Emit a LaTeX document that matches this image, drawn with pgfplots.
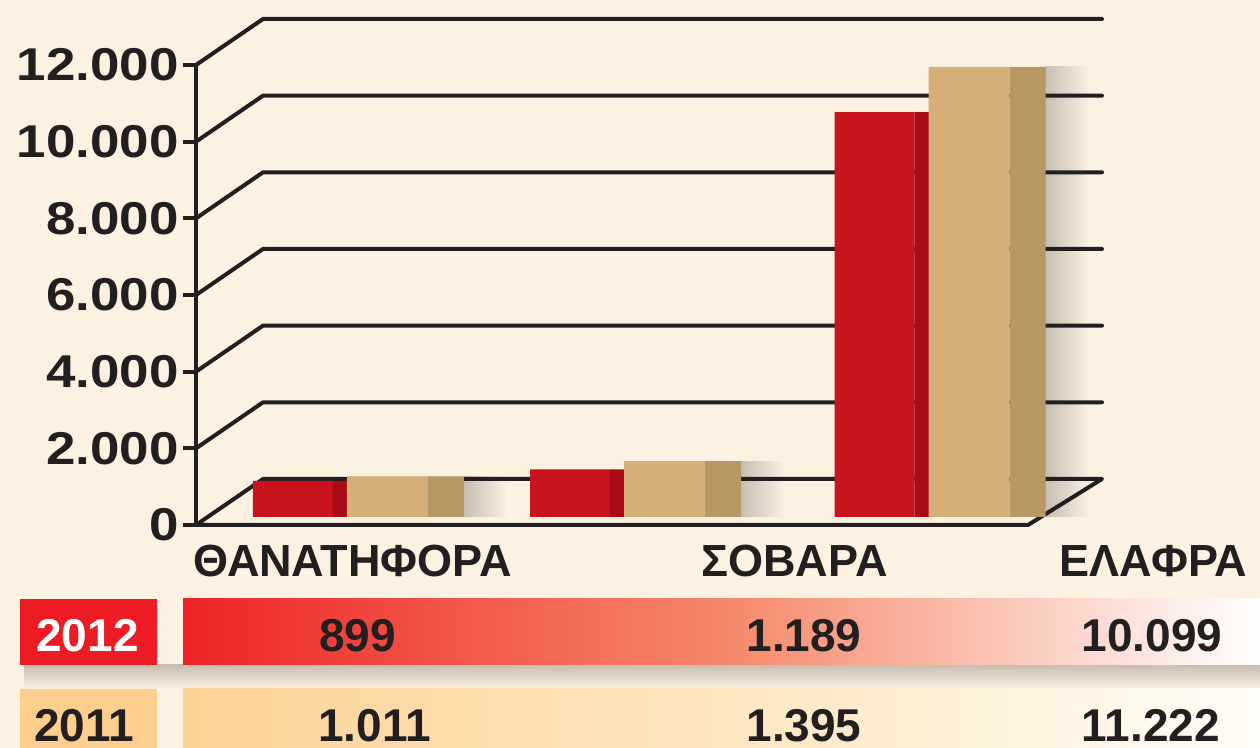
\documentclass[border=0pt]{standalone}
\usepackage{pgfplots}
\pgfplotsset{compat=1.18}
\usepackage{pgfplotstable}
\usepackage{graphicx}
\usepackage{fontspec}
\setmainfont{Liberation Sans}

\definecolor{bg}{RGB}{253,241,226}
\definecolor{ink}{RGB}{35,31,32}
\definecolor{redF}{RGB}{200,20,28}
\definecolor{redS}{RGB}{168,12,22}
\definecolor{tanF}{RGB}{214,174,119}
\definecolor{tanS}{RGB}{184,151,103}
\definecolor{boxA}{RGB}{237,28,36}
\definecolor{rowAL}{RGB}{238,36,38}
\definecolor{rowAM}{RGB}{245,135,105}
\definecolor{rowAR}{RGB}{255,255,255}
\definecolor{boxB}{RGB}{252,207,142}
\definecolor{rowBL}{RGB}{253,210,150}
\definecolor{rowBM}{RGB}{254,230,192}
\definecolor{rowBR}{RGB}{255,253,248}
\definecolor{shad}{RGB}{200,190,178}

\newcommand\tl[1]{\scalebox{1.15}[1]{#1}}

\pgfplotstableread{
x v2012 v2011
0 899 1011
1 1189 1395
2.1 10099 11222
}\datatable

\pgfplotsset{baraxis/.style={at={(0pt,115.5pt)}, anchor=south west, scale only axis,
  width=630pt, height=240.6pt, xmin=-1.2960, xmax=3.2527, ymin=0, ymax=12000,
  hide axis, clip=false}}

\begin{document}
\begin{tikzpicture}
\fill[bg] (0,0) rectangle (630pt,374pt);

% soft shadows right of the bars
\begin{axis}[baraxis]
\addplot[ybar, bar width=22pt, bar shift=63.5pt, draw=none, left color=shad, right color=bg] coordinates {(0,1011)};
\addplot[ybar, bar width=22pt, bar shift=63.5pt, draw=none, left color=shad, right color=bg] coordinates {(1,1395)};
\addplot[ybar, bar width=22pt, bar shift=63.5pt, draw=none, left color=shad, right color=bg] coordinates {(2.1,11222)};
\end{axis}

% frame with 3D walls
\begin{axis}[at={(98pt,111.5pt)}, anchor=south west, scale only axis,
  width=453pt, height=230pt, xmin=0, xmax=906, ymin=0, ymax=12000, clip=false,
  axis x line=none, axis y line*=left, axis line style={ink, line width=2pt, -},
  scaled y ticks=false,
  xtick=\empty, ytick={0,2000,4000,6000,8000,10000,12000},
  yticklabels={\tl{0},\tl{2.000},\tl{4.000},\tl{6.000},\tl{8.000},\tl{10.000},\tl{12.000}},
  tick align=outside, major tick length=6.5pt,
  ytick style={ink, line width=2pt},
  yticklabel style={font=\fontsize{23}{23}\selectfont\bfseries, text=ink, anchor=east, inner sep=0pt, xshift=-2pt}]
\tikzset{gl/.style={ink, line width=2pt, line cap=round, line join=round}}
\draw[gl] (axis cs:0,2000) -- (axis cs:67,3200) -- (axis cs:906,3200);
\draw[gl] (axis cs:0,4000) -- (axis cs:67,5200) -- (axis cs:906,5200);
\draw[gl] (axis cs:0,6000) -- (axis cs:67,7200) -- (axis cs:906,7200);
\draw[gl] (axis cs:0,8000) -- (axis cs:67,9200) -- (axis cs:906,9200);
\draw[gl] (axis cs:0,10000) -- (axis cs:67,11200) -- (axis cs:906,11200);
\draw[gl] (axis cs:0,12000) -- (axis cs:67,13200) -- (axis cs:906,13200);
\draw[gl] (axis cs:0,0) -- (axis cs:67,1200) -- (axis cs:906,1200) -- (axis cs:832,0) -- (axis cs:0,0);
\end{axis}

% bars
\begin{axis}[baraxis]
\addplot[ybar, bar width=40pt, bar shift=-33pt, fill=redF, draw=none] table[x=x,y=v2012]{\datatable};
\addplot[ybar, bar width=18pt, bar shift=-4pt, fill=redS, draw=none] table[x=x,y=v2012]{\datatable};
\addplot[ybar, bar width=40.5pt, bar shift=14.25pt, fill=tanF, draw=none] table[x=x,y=v2011]{\datatable};
\addplot[ybar, bar width=18pt, bar shift=43.5pt, fill=tanS, draw=none] table[x=x,y=v2011]{\datatable};
\end{axis}

% category labels
\begin{scope}[every node/.style={font=\fontsize{22.5}{22.5}\selectfont\bfseries, text=ink, anchor=base, inner sep=0pt}]
\node at (176.25pt,85.7pt) {ΘΑΝΑΤΗΦΟΡΑ};
\node at (397.25pt,85.7pt) {ΣΟΒΑΡΑ};
\node at (576.75pt,85.7pt) {ΕΛΑΦΡΑ};
\end{scope}

% table
\shade[top color=shad, bottom color=bg] (12pt,29.5pt) rectangle (630pt,41.5pt);
\fill[boxA] (10pt,41.5pt) rectangle (78.5pt,74.5pt);
\shade[left color=rowAL, right color=rowAR, middle color=rowAM] (91.5pt,41.5pt) rectangle (630pt,74.5pt);
\fill[boxB] (10pt,0pt) rectangle (78.5pt,29.5pt);
\shade[left color=rowBL, right color=rowBR, middle color=rowBM] (91.5pt,0pt) rectangle (630pt,29.5pt);
\begin{scope}[every node/.style={font=\fontsize{23}{23}\selectfont\bfseries, text=ink, anchor=base, inner sep=0pt}]
\node[text=white] at (43.75pt,48.2pt) {2012};
\node at (42pt,3.2pt) {2011};
\node at (178.75pt,48.2pt) {899};
\node at (402pt,48.2pt) {1.189};
\node at (576pt,48.2pt) {10.099};
\node at (187.25pt,3.2pt) {1.011};
\node at (402pt,3.2pt) {1.395};
\node at (575.5pt,3.2pt) {11.222};
\end{scope}

\pgfresetboundingbox
\useasboundingbox (0,0) rectangle (630pt,374pt);
\end{tikzpicture}
\end{document}
